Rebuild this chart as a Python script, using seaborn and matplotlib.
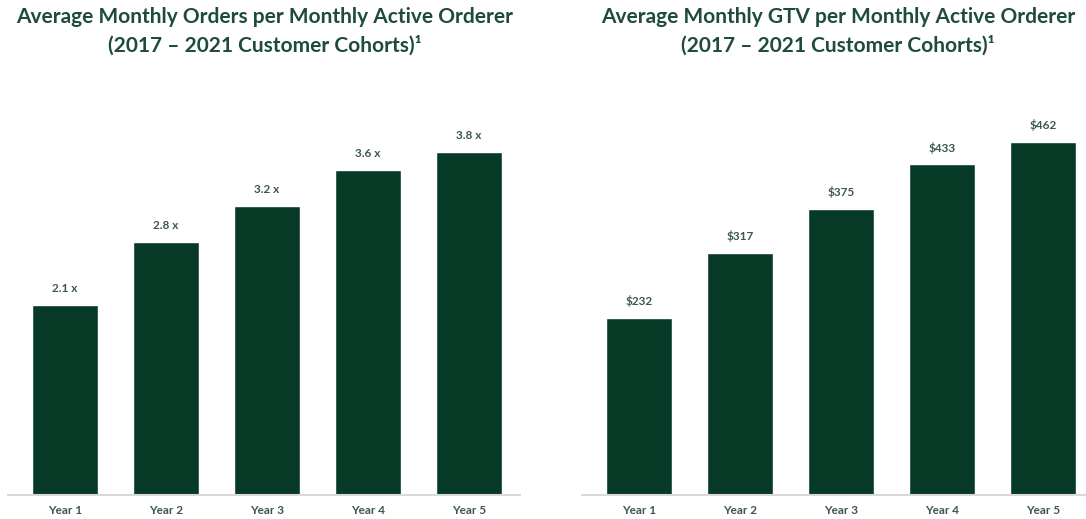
import numpy as np
import pandas as pd
import matplotlib
matplotlib.use("Agg")
import matplotlib.pyplot as plt
import seaborn as sns

years = ["Year 1", "Year 2", "Year 3", "Year 4", "Year 5"]
orders = [2.1, 2.8, 3.2, 3.6, 3.8]
gtv = [232, 317, 375, 433, 462]

order_labels = ["2.1 x", "2.8 x", "3.2 x", "3.6 x", "3.8 x"]
gtv_labels = ["$232", "$317", "$375", "$433", "$462"]

bar_color = "#063A27"
title_color = "#1E4B3A"
label_color = "#3A5750"

sns.set_theme(style="white")
plt.rcParams["font.family"] = ["Lato", "DejaVu Sans"]

W, H = 1086, 519
fig = plt.figure(figsize=(W / 100, H / 100), dpi=100)

def px_axes(x0, x1, y_base, y_top):
    return fig.add_axes([x0 / W, (H - y_base) / H, (x1 - x0) / W, (y_base - y_top) / H])

def draw(ax, values, labels, ymax, xlim):
    df = pd.DataFrame({"year": years, "value": values})
    sns.barplot(data=df, x="year", y="value", color=bar_color, width=0.65,
                saturation=1, ax=ax)
    ax.set_xlim(*xlim)
    ax.set_ylim(0, ymax)
    ax.set_xlabel("")
    ax.set_ylabel("")
    ax.set_yticks([])
    for s in ["top", "right", "left"]:
        ax.spines[s].set_visible(False)
    ax.spines["bottom"].set_color("#d9d9d9")
    ax.spines["bottom"].set_linewidth(1.5)
    ax.tick_params(axis="x", length=0, pad=7, labelsize=8.5, labelcolor=label_color)
    for lab in ax.get_xticklabels():
        lab.set_fontweight("bold")
    for i, (v, t) in enumerate(zip(values, labels)):
        ax.annotate(t, (i, v), xytext=(0, 12), textcoords="offset points",
                    ha="center", va="center", fontsize=8.5, fontweight="bold",
                    color=label_color)

top_px = 80
ax1 = px_axes(8, 520, 495, top_px)
draw(ax1, orders, order_labels, (495 - top_px) / 90.3, ((8 - 65) / 101, (520 - 65) / 101))

ax2 = px_axes(582, 1086, 495, top_px)
draw(ax2, gtv, gtv_labels, (495 - top_px) / 0.764, ((582 - 639) / 101, (1086 - 639) / 101))

title_kw = dict(ha="center", va="center", fontsize=15, fontweight="bold", color=title_color)
fig.text(265 / W, 1 - 17 / H, "Average Monthly Orders per Monthly Active Orderer", **title_kw)
fig.text(265 / W, 1 - 45 / H, "(2017 \u2013 2021 Customer Cohorts)\u00b9", **title_kw)
fig.text(838 / W, 1 - 17 / H, "Average Monthly GTV per Monthly Active Orderer", **title_kw)
fig.text(838 / W, 1 - 45 / H, "(2017 \u2013 2021 Customer Cohorts)\u00b9", **title_kw)

fig.savefig("out.png", dpi=100)
